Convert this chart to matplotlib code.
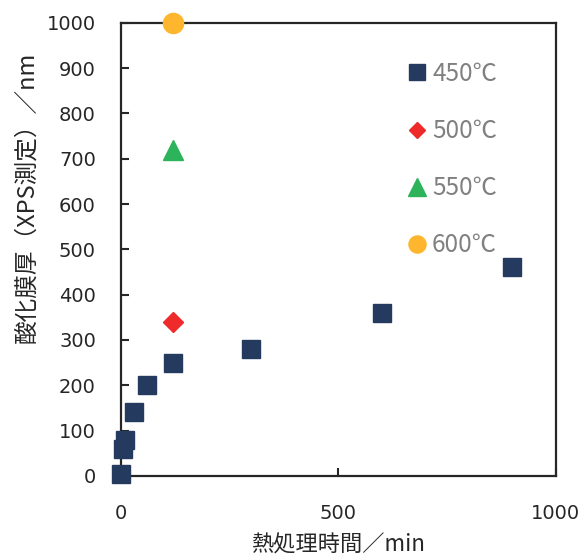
import matplotlib
matplotlib.use("Agg")
import matplotlib.pyplot as plt

plt.rcParams['font.family'] = ['Noto Sans CJK JP', 'DejaVu Sans']

x450 = [0, 5, 10, 30, 60, 120, 300, 600, 900]
y450 = [5, 60, 80, 140, 200, 250, 280, 360, 460]
x500 = [120]; y500 = [340]
x550 = [120]; y550 = [720]
x600 = [120]; y600 = [1000]
labels = ['450℃', '500℃', '550℃', '600℃']
xticks = [0, 500, 1000]
yticks = list(range(0, 1001, 100))

fig = plt.figure(figsize=(5.87, 5.56), dpi=100)
ax = fig.add_axes([0.206, 0.144, 0.741, 0.815])

ax.plot(x450, y450, 's', color='#243A5E', markersize=13.5, label=labels[0], clip_on=False, zorder=3)
ax.plot(x500, y500, 'D', color='#EE2A2A', markersize=10, label=labels[1], clip_on=False, zorder=3)
ax.plot(x550, y550, '^', color='#2DB35A', markersize=15, label=labels[2], clip_on=False, zorder=3)
ax.plot(x600, y600, 'o', color='#FDB62E', markersize=14.5, label=labels[3], clip_on=False, zorder=3)

ax.set_xlim(0, 1000)
ax.set_ylim(0, 1000)
ax.set_xticks(xticks)
ax.set_yticks(yticks)
ax.tick_params(direction='in', length=6, width=1.5, color='#262626', labelsize=14,
               labelcolor='#262626')
ax.tick_params(axis='x', pad=20)
ax.tick_params(axis='y', pad=18)
for lbl in ax.get_xticklabels() + ax.get_yticklabels():
    lbl.set_family('DejaVu Sans')
for s in ax.spines.values():
    s.set_linewidth(1.6)
    s.set_color('#262626')

ax.set_xlabel('熱処理時間／min', fontsize=16, color='#262626', labelpad=8)
ax.set_ylabel('酸化膜厚（XPS測定）／nm', fontsize=17, color='#262626')
ax.yaxis.set_label_coords(-0.19, 0.614)

leg = ax.legend(loc='upper left', bbox_to_anchor=(0.598, 0.964), frameon=False,
                fontsize=17.5, labelspacing=1.28, handletextpad=0.0, handlelength=1.2,
                labelcolor='#808080', markerscale=0.85)

fig.savefig('out.png', dpi=100)
